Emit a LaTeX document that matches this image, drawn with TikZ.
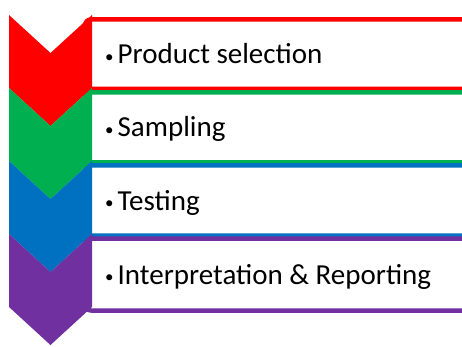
\documentclass[tikz,border=0pt]{standalone}
\usepackage{fontspec}
\setmainfont{Carlito}
\definecolor{stepred}{HTML}{FF0000}
\definecolor{stepgreen}{HTML}{00B050}
\definecolor{stepblue}{HTML}{0070C0}
\definecolor{steppurple}{HTML}{7030A0}
\tikzset{
  listbox/.style={draw=#1, line width=4.5pt, fill=white, rounded corners=6pt,
    minimum width=384pt, inner sep=0pt, outer sep=0pt},
  listtext/.style={anchor=base west, inner sep=0pt, font=\fontsize{29}{29}\selectfont},
}
% chevron: colour, top edge
\newcommand{\stepchevron}[2]{%
  \fill[#1] (9,#2) -- (50.5,#2+38) -- (92,#2) -- (92,#2+73) -- (50.5,#2+111) -- (9,#2+73) -- cycle;}
\newcommand{\itembullet}{{\fontsize{17}{17}\selectfont\raisebox{1.5pt}{\textbullet}}\hspace{4pt}}

\begin{document}
\begin{tikzpicture}[x=1pt,y=-1pt]
  \useasboundingbox (0,0) rectangle (462,347);
  % Caixas
  \node[listbox=stepred,    minimum height=69.5pt] (box1) at (277,54.25) {};
  \node[listbox=stepgreen,  minimum height=70pt]   (box2) at (277,127.5) {};
  \node[listbox=stepblue,   minimum height=70pt]   (box3) at (277,200.5) {};
  \node[listbox=steppurple, minimum height=72pt]   (box4) at (277,274.5) {};

  % Setas
  \stepchevron{stepred}{15}
  \stepchevron{stepgreen}{88}
  \stepchevron{stepblue}{161}
  \stepchevron{steppurple}{234}

  % Textos
  \node[listtext] (txt1) at ([xshift=20pt,yshift=-9.5pt]box1.west) {\itembullet Product selection};
  \node[listtext] (txt2) at ([xshift=20pt,yshift=-9.5pt]box2.west) {\itembullet Sampling};
  \node[listtext] (txt3) at ([xshift=20pt,yshift=-9.5pt]box3.west) {\itembullet Testing};
  \node[listtext] (txt4) at ([xshift=20pt,yshift=-9.5pt]box4.west) {\itembullet Interpretation \& Reporting};
\end{tikzpicture}
\end{document}
